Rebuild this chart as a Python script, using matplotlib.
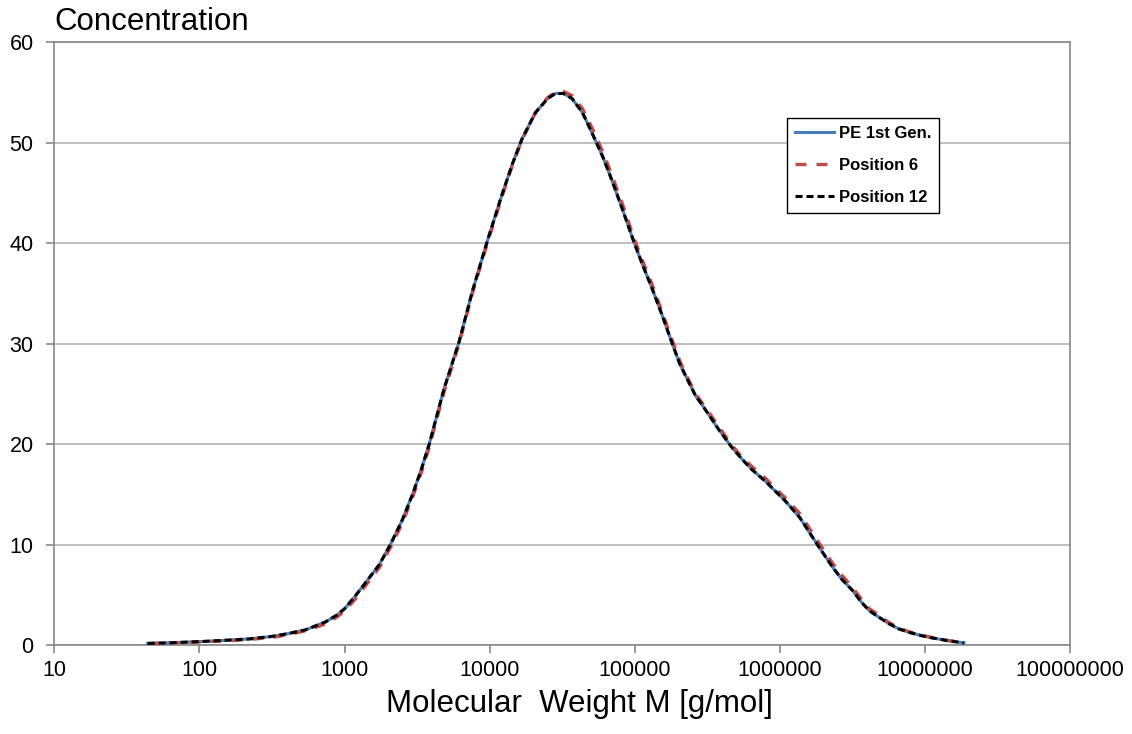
import matplotlib
matplotlib.use("Agg")
import matplotlib.pyplot as plt
from matplotlib.ticker import FixedLocator, FuncFormatter, NullLocator

plt.rcParams['font.family'] = ['Liberation Sans', 'DejaVu Sans']

# molecular weight [g/mol]
mw = [44, 63, 100, 158, 220, 316, 398, 537, 741, 891, 1000, 1175, 1413, 1738,
      2089, 2512, 2944, 3388, 3837, 4853, 6166, 7603, 9638, 12218, 14454,
      16749, 20701, 25119, 28379, 32359, 36983, 43652, 50699, 60256, 69502,
      83176, 97724, 112202, 130918, 154882, 179473, 204174, 233346, 263027,
      288403, 377572, 465586, 549541, 638263, 809096, 933254, 1081434,
      1370882, 1584893, 1832314, 2322737, 2691535, 3184198, 3630781,
      4149540, 4897788, 5688529, 6606934, 7798301, 9332543, 11297959,
      14125375, 18620871]

pe_1st = [0.15, 0.22, 0.33, 0.48, 0.6, 0.85, 1.1, 1.5, 2.3, 3.0, 3.6, 4.8,
          6.3, 8.0, 10.1, 12.5, 15.0, 17.5, 20.0, 25.5, 30.2, 35.2, 40.2,
          44.9, 48.0, 50.4, 53.0, 54.4, 54.9, 54.9, 54.4, 53.0, 51.0, 48.6,
          46.3, 43.2, 40.3, 38.0, 35.6, 32.8, 30.2, 28.0, 26.3, 24.8, 24.0,
          21.5, 19.7, 18.5, 17.5, 16.2, 15.3, 14.4, 12.7, 11.3, 9.9, 7.7,
          6.5, 5.4, 4.3, 3.4, 2.7, 2.1, 1.6, 1.26, 0.95, 0.7, 0.45, 0.2]

pos_6 = [0.15, 0.2, 0.3, 0.42, 0.55, 0.75, 1.0, 1.4, 2.1, 2.8, 3.4, 4.5,
         6.0, 7.7, 9.8, 12.2, 14.7, 17.2, 19.7, 25.2, 30.0, 35.0, 40.0,
         44.7, 47.9, 50.3, 53.0, 54.5, 55.0, 55.1, 54.7, 53.4, 51.5, 49.1,
         46.8, 43.7, 40.7, 38.4, 36.0, 33.1, 30.5, 28.3, 26.5, 25.0, 24.2,
         21.8, 19.9, 18.7, 17.8, 16.5, 15.6, 14.7, 13.1, 11.7, 10.3, 8.1,
         6.9, 5.7, 4.6, 3.6, 2.9, 2.2, 1.7, 1.3, 1.0, 0.72, 0.46, 0.2]

pos_12 = [0.15, 0.22, 0.33, 0.48, 0.6, 0.85, 1.1, 1.5, 2.3, 3.0, 3.6, 4.8,
          6.3, 8.0, 10.1, 12.5, 15.0, 17.5, 20.0, 25.5, 30.2, 35.2, 40.2,
          44.9, 48.0, 50.4, 53.0, 54.4, 54.9, 54.9, 54.4, 53.0, 51.0, 48.6,
          46.3, 43.2, 40.3, 38.0, 35.6, 32.8, 30.2, 28.0, 26.3, 24.8, 24.0,
          21.5, 19.7, 18.5, 17.5, 16.2, 15.3, 14.4, 12.7, 11.3, 9.9, 7.7,
          6.5, 5.4, 4.3, 3.4, 2.7, 2.1, 1.6, 1.26, 0.95, 0.7, 0.45, 0.2]

x_ticks = [10, 100, 1000, 10000, 100000, 1000000, 10000000, 100000000]
y_ticks = [0, 10, 20, 30, 40, 50, 60]

fig = plt.figure(figsize=(11.32, 7.34), dpi=100)
ax = fig.add_axes([0.048, 0.1213, 0.8972, 0.8211])

ax.plot(mw, pe_1st, color='#4a7ebb', lw=2.2, label='PE 1st Gen.', zorder=3)
ax.plot(mw, pos_6, color='#be4b48', lw=2.4, dashes=(3.3, 3.0), label='Position 6', zorder=4)
ax.plot(mw, pos_12, color='black', lw=2.2, dashes=(2.3, 1.3), label='Position 12', zorder=5)

ax.set_xscale('log')
ax.set_xlim(10, 1e8)
ax.set_ylim(0, 60)
ax.xaxis.set_major_locator(FixedLocator(x_ticks))
ax.xaxis.set_minor_locator(NullLocator())
ax.xaxis.set_major_formatter(FuncFormatter(lambda v, p: '%d' % v))
ax.set_yticks(y_ticks)

ax.grid(axis='y', color='#b3b3b3', lw=1.2)
ax.set_axisbelow(True)
for s in ['top', 'right', 'left', 'bottom']:
    ax.spines[s].set_color('#868686')
    ax.spines[s].set_linewidth(1.2)
ax.tick_params(axis='both', direction='out', length=6, width=1.2, color='#868686',
               labelsize=15.5)
ax.tick_params(axis='x', pad=5)
ax.tick_params(axis='y', pad=9)

fig.text(0.048, 0.959, 'Concentration', fontsize=22.5, va='baseline', ha='left')
fig.text(0.512, 0.030, 'Molecular  Weight M [g/mol]', fontsize=22.5, va='baseline', ha='center')

leg = ax.legend(loc='upper left', bbox_to_anchor=(0.7214, 0.8744), fancybox=False,
                framealpha=1, edgecolor='black', handlelength=2.3, borderpad=0.5,
                labelspacing=1.0, handletextpad=0.3, borderaxespad=0,
                prop={'weight': 'bold', 'size': 12})
leg.get_frame().set_linewidth(1.0)

fig.savefig('out.png', dpi=100)
